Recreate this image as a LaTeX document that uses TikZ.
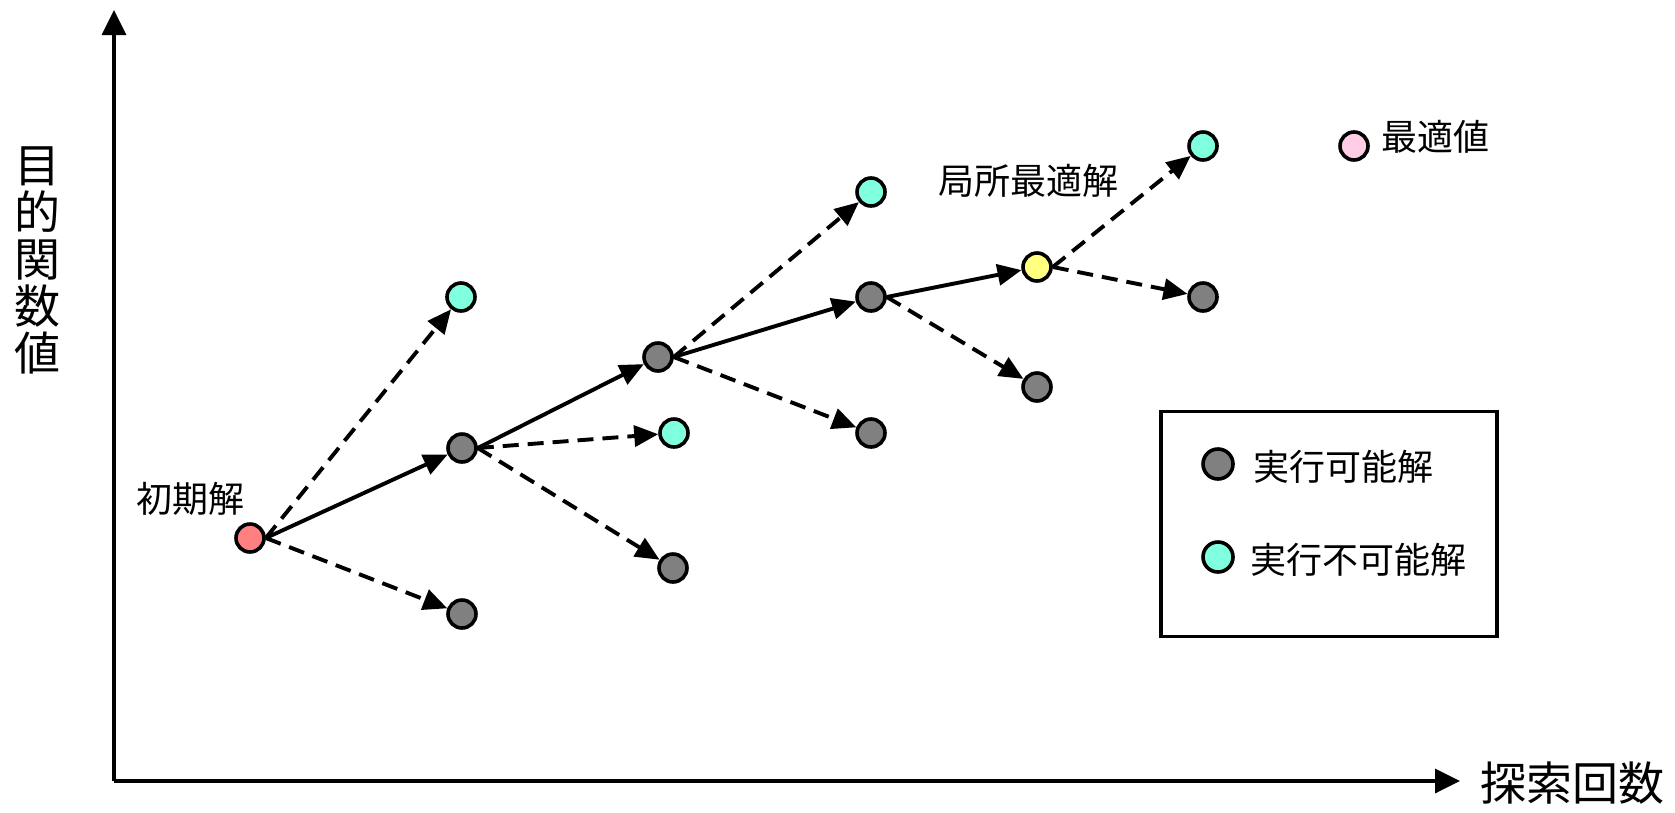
\documentclass[tikz,border=0pt]{standalone}
\usepackage{fontspec}
\newfontfamily\jp{Noto Sans CJK JP}
\usetikzlibrary{arrows.meta}
\definecolor{cred}{HTML}{FF8080}
\definecolor{cgray}{HTML}{808080}
\definecolor{ccyan}{HTML}{80FFDF}
\definecolor{cyel}{HTML}{FFFF80}
\definecolor{cpink}{HTML}{FFCCE6}
\begin{document}
\begin{tikzpicture}[x=1pt,y=-1pt,
  pt/.style={circle, draw=black, line width=3.6pt, minimum size=28pt, inner sep=0pt},
  feas/.style={pt, fill=cgray},
  infeas/.style={pt, fill=ccyan},
  lbl/.style={font=\jp\fontsize{36}{40}\selectfont, inner sep=0pt},
  axlbl/.style={font=\jp\fontsize{46}{47}\selectfont, inner sep=0pt},
  solidarrow/.style={line width=3.9pt, -{Triangle[length=24pt,width=21pt]}},
  dasharrow/.style={solidarrow, dash pattern=on 16pt off 9pt},
  axis/.style={line width=3.5pt, -{Triangle[length=25pt,width=24pt]}}]
\useasboundingbox (0,0) rectangle (1675,812);
% axes
\coordinate (O) at (114,781);
\coordinate (ytop) at (114,10);
\coordinate (xend) at (1460,781);
\draw[axis] (O) -- (ytop);
\draw[axis] (O) -- (xend);
\node[axlbl, align=center] (ylab) at (37,260) {目\\的\\関\\数\\値};
\node[axlbl] (xlab) at (1572,783) {探索回数};
% nodes
\node[pt, fill=cred] (init) at (250,538) {};
\node[feas] (g1) at (462,448) {};
\node[feas] (g1b) at (462,614) {};
\node[infeas] (c1) at (461,297) {};
\node[feas] (g2) at (658,357) {};
\node[infeas] (c2) at (674,433) {};
\node[feas] (g2b) at (673,568) {};
\node[infeas] (c3) at (871,192) {};
\node[feas] (g3) at (871,297) {};
\node[feas] (g3b) at (871,433) {};
\node[pt, fill=cyel] (loc) at (1037,267) {};
\node[feas] (g4b) at (1037,387) {};
\node[infeas] (c5) at (1203,146) {};
\node[feas] (g5) at (1203,297) {};
\node[pt, fill=cpink] (opt) at (1354,146) {};
% labels
\node[lbl] (tinit) at (190,499) {初期解};
\node[lbl] (tloc) at (1028,181) {局所最適解};
\node[lbl, anchor=west] (topt) at (1381,137) {最適値};
% edges
\draw[solidarrow] (init.east) -- (g1);
\draw[solidarrow] (g1.east) -- (g2);
\draw[solidarrow] (g2.east) -- (g3);
\draw[solidarrow] (g3.east) -- (loc);
\draw[dasharrow] (init.east) -- (c1);
\draw[dasharrow] (init.east) -- (g1b);
\draw[dasharrow] (g1.east) -- (c2);
\draw[dasharrow] (g1.east) -- (g2b);
\draw[dasharrow] (g2.east) -- (c3);
\draw[dasharrow] (g2.east) -- (g3b);
\draw[dasharrow] (g3.east) -- (g4b);
\draw[dasharrow] (loc.east) -- (c5);
\draw[dasharrow] (loc.east) -- (g5);
% legend
\node[draw=black, line width=3.5pt, minimum width=336pt, minimum height=225pt, inner sep=0pt] (legend) at (1329,524) {};
\node[feas, minimum size=30pt] (lg1) at (1218,464) {};
\node[infeas, minimum size=30pt] (lg2) at (1218,557) {};
\node[lbl, anchor=west] (lt1) at (1253,467) {実行可能解};
\node[lbl, anchor=west] (lt2) at (1250,560) {実行不可能解};
\end{tikzpicture}
\end{document}
